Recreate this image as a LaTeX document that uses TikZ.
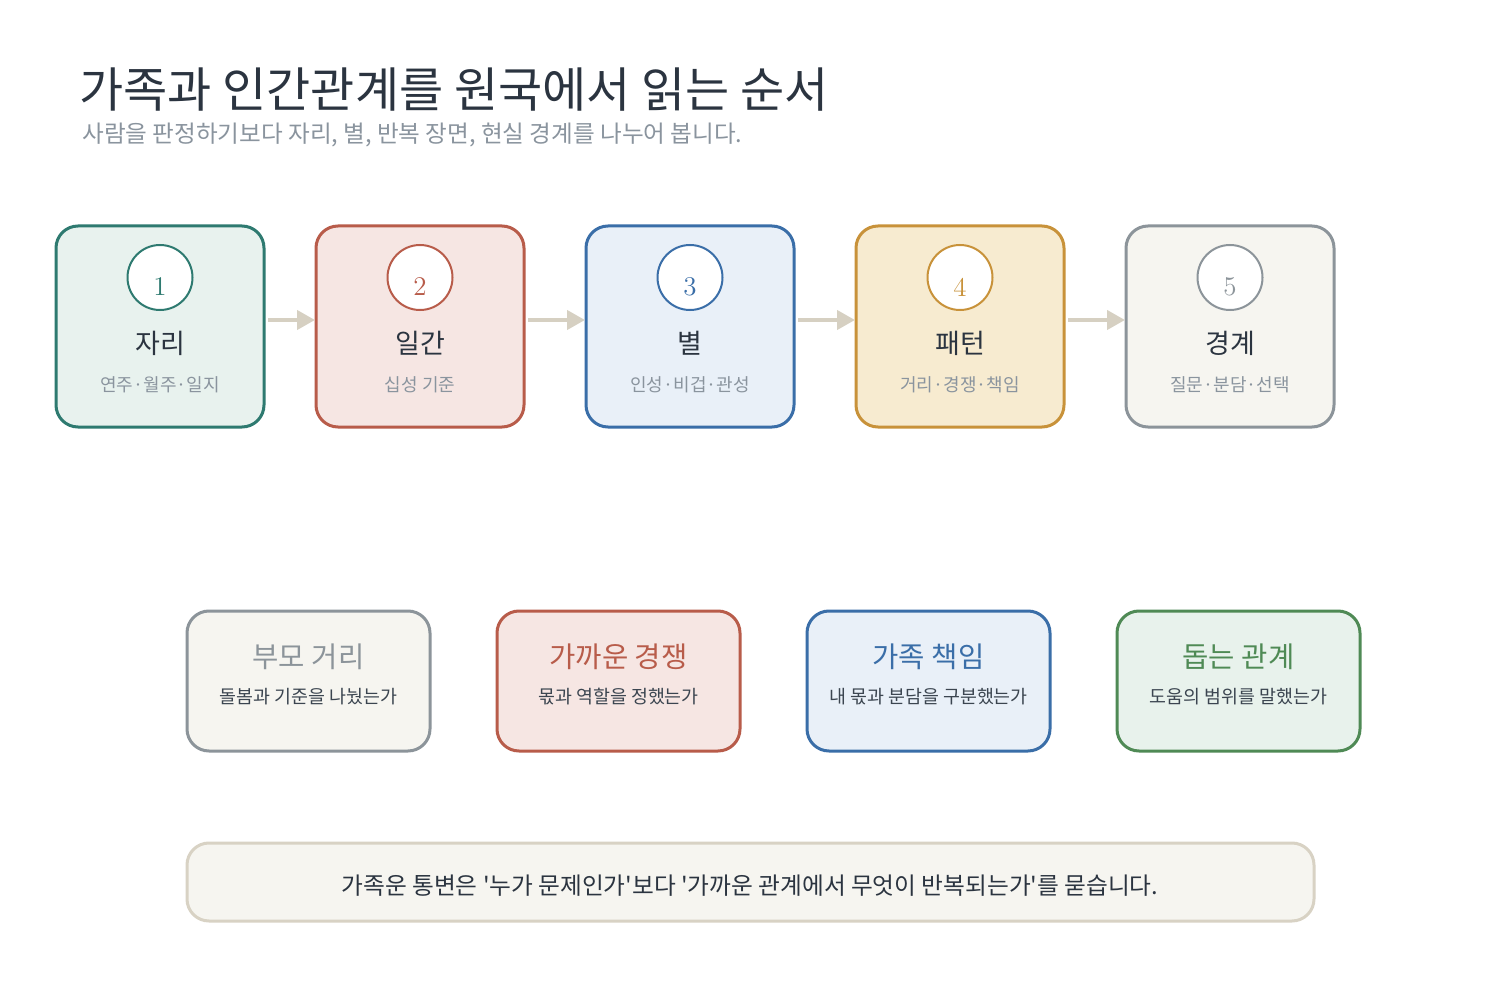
\documentclass[tikz,border=0pt]{standalone}
\usepackage{fontspec}
\newfontfamily\kr{Noto Sans CJK KR}
\usetikzlibrary{arrows.meta}
\definecolor{ink}{HTML}{2B3440}
\definecolor{muted}{HTML}{8A949E}
\definecolor{subink}{HTML}{3B4550}
\definecolor{cA}{HTML}{2E7A70}\definecolor{fA}{HTML}{E8F2EE}
\definecolor{cB}{HTML}{B85C4A}\definecolor{fB}{HTML}{F6E6E3}
\definecolor{cC}{HTML}{3A6EA8}\definecolor{fC}{HTML}{E9F0F8}
\definecolor{cD}{HTML}{C8923A}\definecolor{fD}{HTML}{F7EBD0}
\definecolor{cE}{HTML}{8C949A}\definecolor{fE}{HTML}{F6F5F0}
\definecolor{cG}{HTML}{4F8A55}\definecolor{fG}{HTML}{E8F2EC}
\definecolor{arrowc}{HTML}{D6D0C2}
\definecolor{footc}{HTML}{D8D2C4}
\tikzset{
  topbox/.style={rectangle, rounded corners=11pt, line width=1.5pt, minimum width=104pt, minimum height=100.5pt, inner sep=0pt, outer sep=0pt},
  botbox/.style={rectangle, rounded corners=11pt, line width=1.5pt, minimum width=121.5pt, minimum height=70pt, inner sep=0pt, outer sep=0pt},
  numcirc/.style={circle, fill=white, line width=1pt, minimum size=32.5pt, inner sep=0pt, outer sep=0pt},
  numtxt/.style={inner sep=0pt, font=\fontsize{13.5}{15}\selectfont},
  lbl/.style={inner sep=0pt, text=ink, font=\kr\fontsize{13.5}{16}\selectfont},
  sublbl/.style={inner sep=0pt, text=muted, font=\kr\fontsize{9}{11}\selectfont},
  btitle/.style={inner sep=0pt, font=\kr\fontsize{14.3}{17}\selectfont},
  bsub/.style={inner sep=0pt, text=subink, font=\kr\fontsize{9.2}{11}\selectfont},
  arr/.style={draw=arrowc, line width=2pt, -{Triangle[length=9pt,width=9.5pt]}, shorten <=2pt, shorten >=0.5pt},
}
\begin{document}
\begin{tikzpicture}[x=0.5pt,y=-0.5pt]
\useasboundingbox[fill=white] (0,0) rectangle (1500,1000);

% title
\node[anchor=west, inner sep=0pt, text=ink, font=\kr\fontsize{24}{27}\selectfont] (title) at (79,90) {가족과 인간관계를 원국에서 읽는 순서};
\node[anchor=west, inner sep=0pt, text=muted, font=\kr\fontsize{11.8}{14}\selectfont] (subtitle) at (82,135) {사람을 판정하기보다 자리, 별, 반복 장면, 현실 경계를 나누어 봅니다.};

% top boxes
\foreach \i/\x/\c/\f/\n/\t/\s in {1/160/cA/fA/1/자리/연주·월주·일지, 2/420/cB/fB/2/일간/십성 기준, 3/690/cC/fC/3/별/인성·비겁·관성, 4/960/cD/fD/4/패턴/거리·경쟁·책임, 5/1230/cE/fE/5/경계/질문·분담·선택}{
  \node[topbox, draw=\c, fill=\f] (b\i) at (\x,326.5) {};
  \node[numcirc, draw=\c] (c\i) at (\x,277.5) {};
  \node[numtxt, text=\c] (n\i) at (\x,287) {\n};
  \node[lbl] (l\i) at (\x,343) {\t};
  \node[sublbl] (s\i) at (\x,385) {\s};
}
\foreach \a/\b in {1/2,2/3,3/4,4/5}{
  \draw[arr] ([yshift=3.25pt]b\a.east) -- ([yshift=3.25pt]b\b.west);
}

% bottom boxes
\node[botbox, draw=cE, fill=fE] (p1) at (308.5,681) {};
\node[btitle, text=cE] (pt1) at (308.5,657) {부모 거리};
\node[bsub] (ps1) at (308.5,697) {돌봄과 기준을 나눴는가};

\node[botbox, draw=cB, fill=fB] (p2) at (618.5,681) {};
\node[btitle, text=cB] (pt2) at (618.5,657) {가까운 경쟁};
\node[bsub] (ps2) at (618.5,697) {몫과 역할을 정했는가};

\node[botbox, draw=cC, fill=fC] (p3) at (928.5,681) {};
\node[btitle, text=cC] (pt3) at (928.5,657) {가족 책임};
\node[bsub] (ps3) at (928.5,697) {내 몫과 분담을 구분했는가};

\node[botbox, draw=cG, fill=fG] (p4) at (1238.5,681) {};
\node[btitle, text=cG] (pt4) at (1238.5,657) {돕는 관계};
\node[bsub] (ps4) at (1238.5,697) {도움의 범위를 말했는가};

% footer
\node[rectangle, rounded corners=11pt, line width=1.5pt, draw=footc, fill=fE, minimum width=563.5pt, minimum height=39pt, inner sep=0pt] (foot) at (750.5,882) {};
\node[inner sep=0pt, text=ink, font=\kr\fontsize{11.85}{14}\selectfont] (foottxt) at (750,886) {가족운 통변은 '누가 문제인가'보다 '가까운 관계에서 무엇이 반복되는가'를 묻습니다.};
\end{tikzpicture}
\end{document}
